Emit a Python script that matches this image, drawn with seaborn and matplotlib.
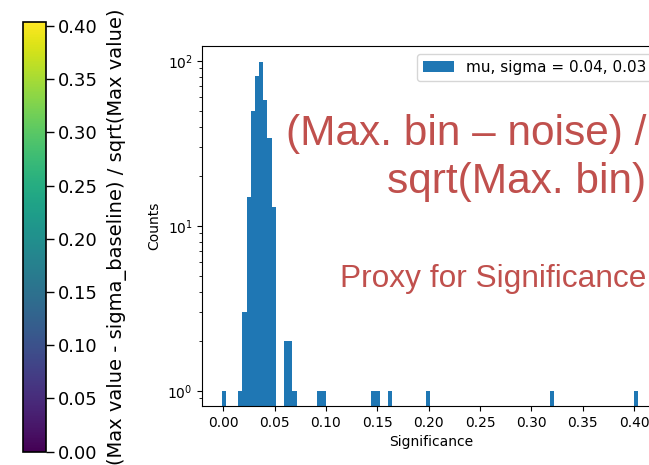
import numpy as np
import matplotlib
matplotlib.use("Agg")
import matplotlib.pyplot as plt
from matplotlib.patches import Patch
import seaborn as sns

# ---- data ----
sig_centers = [0.0004, 0.0166, 0.0207, 0.0247, 0.0288, 0.0328, 0.0369, 0.0409,
               0.0450, 0.0491, 0.0612, 0.0653, 0.0693, 0.0936, 0.0977, 0.1463,
               0.1504, 0.1625, 0.1990, 0.3205, 0.4016]
counts = [1, 1, 3, 15, 50, 81, 98, 58, 34, 13, 2, 2, 1, 1, 1, 1, 1, 1, 1, 1, 1]
bin_range = (-0.0016, 0.4036)
n_bins = 100
legend_label = "mu, sigma = 0.04, 0.03"
x_ticks = [0.00, 0.05, 0.10, 0.15, 0.20, 0.25, 0.30, 0.35, 0.40]
cbar_ticks = [0.00, 0.05, 0.10, 0.15, 0.20, 0.25, 0.30, 0.35, 0.40]
cbar_label = "(Max value - sigma_baseline) / sqrt(Max value)"

W, H = 649, 465
fig = plt.figure(figsize=(W / 100, H / 100), dpi=100)

# ---- histogram axes (extends past right edge, as in the cropped reference) ----
ax_l, ax_r, ax_t, ax_b = 202.3, 660.0, 46, 406
x0_px, px_per_unit = 223.3, 1026.7
ax = fig.add_axes([ax_l / W, 1 - ax_b / H, (ax_r - ax_l) / W, (ax_b - ax_t) / H])
sns.histplot(x=sig_centers, weights=counts, bins=n_bins, binrange=bin_range,
             color="#1f77b4", alpha=1.0, linewidth=0, ax=ax)
ax.set_yscale("log")
ax.set_ylim(0.81, 123)
ax.set_xlim((ax_l - x0_px) / px_per_unit, (ax_r - x0_px) / px_per_unit)
ax.set_xticks(x_ticks)
ax.set_xticklabels([f"{t:.2f}" for t in x_ticks])
ax.set_xlabel("Significance")
ax.set_ylabel("Counts")
ax.legend(handles=[Patch(facecolor="#1f77b4", label=legend_label)],
          loc="upper right", fontsize=11)

# ---- colorbar ----
cb_l, cb_r, cb_t, cb_b = 23.3, 45.7, 22, 451.7
cax = fig.add_axes([cb_l / W, 1 - cb_b / H, (cb_r - cb_l) / W, (cb_b - cb_t) / H])
norm = matplotlib.colors.Normalize(vmin=0.0, vmax=bin_range[1])
sm = matplotlib.cm.ScalarMappable(norm=norm, cmap="viridis")
cb = fig.colorbar(sm, cax=cax)
cb.set_ticks(cbar_ticks)
cb.set_ticklabels([f"{t:.2f}" for t in cbar_ticks])
cax.tick_params(labelsize=13, length=5.5, width=1.0)
cb.outline.set_linewidth(1.2)
fig.text(117 / W, 1 - 237 / H, cbar_label, rotation=90, ha="center", va="center",
         fontsize=14)

# ---- overlaid annotation ----
red = "#C0504D"
fam = ["Liberation Sans", "DejaVu Sans"]
fig.text(646 / W, 1 - 145 / H, "(Max. bin \u2013 noise) /", ha="right", va="baseline",
         fontsize=30.5, color=red, family=fam)
fig.text(646 / W, 1 - 193 / H, "sqrt(Max. bin)", ha="right", va="baseline",
         fontsize=30.5, color=red, family=fam)
fig.text(646 / W, 1 - 286.7 / H, "Proxy for Significance", ha="right", va="baseline",
         fontsize=22.8, color=red, family=fam)

fig.savefig("out.png", dpi=100)
